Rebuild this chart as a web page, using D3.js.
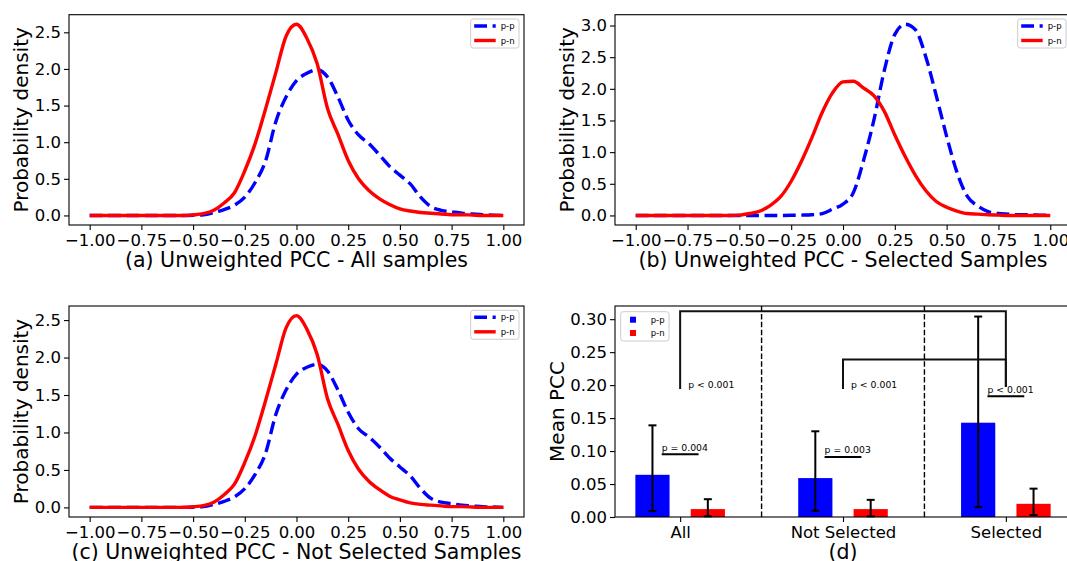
<!DOCTYPE html>
<html>
<head>
<meta charset="utf-8">
<script src="https://cdn.jsdelivr.net/npm/d3@7"></script>
<style>
body { margin: 0; background: #fff; }
svg text { font-family: "DejaVu Sans", sans-serif; fill: #000; }
</style>
</head>
<body>
<div id="chart"></div>
<script>
// PCC values where the densities were sampled
const pccPoints = [-1.00, -0.95, -0.90, -0.85, -0.80, -0.75, -0.70, -0.65, -0.60, -0.55,
	-0.50, -0.45, -0.40, -0.35, -0.30, -0.25, -0.20, -0.15, -0.10, -0.05,
	0.00, 0.05, 0.10, 0.15, 0.20, 0.25, 0.30, 0.35, 0.40, 0.45,
	0.50, 0.55, 0.60, 0.65, 0.70, 0.75, 0.80, 0.85, 0.90, 0.95, 1.00]

// (a) all samples
const allPP = [0, 0, 0, 0, 0, 0, 0, 0, 0, 0,
	0.003, 0.01, 0.04, 0.08, 0.14, 0.25, 0.45, 0.74, 1.28, 1.62,
	1.84, 1.94, 1.99, 1.89, 1.62, 1.30, 1.10, 0.98, 0.83, 0.67,
	0.55, 0.43, 0.25, 0.12, 0.07, 0.05, 0.03, 0.02, 0.01, 0.005, 0]
const allPN = [0, 0, 0, 0, 0, 0, 0, 0, 0, 0,
	0.008, 0.025, 0.07, 0.17, 0.31, 0.61, 0.98, 1.45, 1.95, 2.45,
	2.61, 2.42, 2.07, 1.46, 1.11, 0.75, 0.50, 0.34, 0.23, 0.15,
	0.09, 0.06, 0.04, 0.03, 0.02, 0.01, 0.01, 0.005, 0, 0, 0]

// (b) selected samples
const selPP = [0, 0, 0, 0, 0, 0, 0, 0, 0, 0,
	0, 0, 0, 0, 0, 0.002, 0.005, 0.01, 0.03, 0.10,
	0.18, 0.36, 0.88, 1.52, 2.30, 2.86, 3.02, 2.93, 2.50, 1.89,
	1.25, 0.68, 0.30, 0.15, 0.06, 0.03, 0.02, 0.01, 0.01, 0.005, 0]
const selPN = [0, 0, 0, 0, 0, 0, 0, 0, 0, 0,
	0.005, 0.03, 0.07, 0.16, 0.30, 0.54, 0.86, 1.23, 1.63, 1.94,
	2.11, 2.12, 2.01, 1.89, 1.64, 1.27, 0.93, 0.63, 0.39, 0.22,
	0.13, 0.07, 0.03, 0.02, 0.01, 0.005, 0, 0, 0, 0, 0]

// (c) not selected samples
const notPP = [0, 0, 0, 0, 0, 0, 0, 0, 0, 0,
	0.003, 0.01, 0.04, 0.08, 0.14, 0.25, 0.44, 0.72, 1.24, 1.57,
	1.78, 1.87, 1.91, 1.82, 1.57, 1.27, 1.05, 0.94, 0.81, 0.66,
	0.54, 0.42, 0.25, 0.12, 0.07, 0.05, 0.03, 0.02, 0.01, 0.005, 0]
const notPN = [0, 0, 0, 0, 0, 0, 0, 0, 0, 0,
	0.008, 0.025, 0.07, 0.17, 0.31, 0.60, 0.96, 1.42, 1.91, 2.40,
	2.56, 2.38, 2.04, 1.45, 1.11, 0.76, 0.51, 0.35, 0.24, 0.15,
	0.10, 0.06, 0.04, 0.03, 0.02, 0.01, 0.01, 0.005, 0, 0, 0]

const pccTicks = [-1, -0.75, -0.5, -0.25, 0, 0.25, 0.5, 0.75, 1]
const seriesNames = ["p-p", "p-n"]

// (d) mean PCC per group
const groups = ["All", "Not Selected", "Selected"]
const meanPP = [0.064, 0.059, 0.143]
const meanPN = [0.012, 0.012, 0.020]
const ppLow = [0.009, 0.009, 0.015]
const ppHigh = [0.139, 0.130, 0.304]
const pnLow = [0.001, 0.001, 0.003]
const pnHigh = [0.027, 0.026, 0.043]
const meanTicks = [0, 0.05, 0.10, 0.15, 0.20, 0.25, 0.30]

// significance marks (levels in Mean PCC units)
const pairTests = [
	{ group: 0, level: 0.095, label: "p = 0.004" },
	{ group: 1, level: 0.091, label: "p = 0.003" },
	{ group: 2, level: 0.183, label: "p < 0.001" },
]
const groupTests = [
	{ from: 0, to: 2, top: 0.312, foot: 0.194, label: "p < 0.001" },
	{ from: 1, to: 2, top: 0.239, foot: 0.194, label: "p < 0.001" },
]

const BLUE = "#0000ff"
const RED = "#ff0000"

const svg = d3.select("#chart")
	.append("svg")
	.attr("width", 1067)
	.attr("height", 561)

function styleAxis(g, size) {
	g.attr("font-family", null).attr("font-size", null)
	g.select(".domain").remove()
	g.selectAll(".tick line").attr("stroke", "#000").attr("stroke-width", 1.1)
	g.selectAll(".tick text").style("font-size", size + "px")
}

function addFrame(box) {
	svg.append("rect")
		.attr("x", box.left).attr("y", box.top)
		.attr("width", box.right - box.left)
		.attr("height", box.bottom - box.top)
		.attr("fill", "none")
		.attr("stroke", "#000")
		.attr("stroke-width", 1.1)
}

function addLabels(box, title, ylabel, ylabelX) {
	svg.append("text")
		.attr("x", (box.left + box.right) / 2)
		.attr("y", box.bottom + 42)
		.attr("text-anchor", "middle")
		.style("font-size", "20.5px")
		.text(title)

	svg.append("text")
		.attr("transform", `translate(${ylabelX},${(box.top + box.bottom) / 2}) rotate(-90)`)
		.attr("text-anchor", "middle")
		.style("font-size", "20px")
		.text(ylabel)
}

function densityPanel(box, pp, pn, yTicks, title) {
	const x = d3.scaleLinear().domain([-1.1, 1.1]).range([box.left, box.right])
	const yMax = d3.max(pp.concat(pn))
	const y = d3.scaleLinear()
		.domain([-yMax * 0.05, yMax * 1.05])
		.range([box.bottom, box.top])

	const line = d3.line()
		.x((d, i) => x(pccPoints[i]))
		.y(d => y(d))
		.curve(d3.curveMonotoneX)

	svg.append("path")
		.attr("d", line(pp))
		.attr("fill", "none")
		.attr("stroke", BLUE)
		.attr("stroke-width", 3.4)
		.attr("stroke-dasharray", "12.8,5.6")

	svg.append("path")
		.attr("d", line(pn))
		.attr("fill", "none")
		.attr("stroke", RED)
		.attr("stroke-width", 3.4)

	svg.append("g")
		.attr("transform", `translate(0,${box.bottom})`)
		.call(d3.axisBottom(x).tickValues(pccTicks).tickFormat(d3.format(".2f")).tickSize(5).tickPadding(4))
		.call(g => styleAxis(g, 16.5))

	svg.append("g")
		.attr("transform", `translate(${box.left},0)`)
		.call(d3.axisLeft(y).tickValues(yTicks).tickFormat(d3.format(".1f")).tickSize(5).tickPadding(3))
		.call(g => styleAxis(g, 16.5))

	// legend
	const lg = svg.append("g")
		.attr("transform", `translate(${box.right - 53.3},${box.top + 4.3})`)
	lg.append("rect")
		.attr("width", 48.3).attr("height", 29).attr("rx", 2.5)
		.attr("fill", "#fff").attr("fill-opacity", 0.8)
		.attr("stroke", "#cccccc").attr("stroke-width", 1)
	seriesNames.forEach((name, i) => {
		const ly = 7 + i * 14.5
		lg.append("line")
			.attr("x1", 3.5).attr("x2", 25).attr("y1", ly).attr("y2", ly)
			.attr("stroke", i === 0 ? BLUE : RED)
			.attr("stroke-width", 3.4)
			.attr("stroke-dasharray", i === 0 ? "12.8,5.6" : null)
		lg.append("text")
			.attr("x", 30).attr("y", ly + 3)
			.style("font-size", "8.5px")
			.text(name)
	})

	addFrame(box)
	addLabels(box, title, "Probability density", box.left - 41)
}

densityPanel({ left: 69, right: 524, top: 14.7, bottom: 225 }, allPP, allPN,
	[0, 0.5, 1, 1.5, 2, 2.5], "(a) Unweighted PCC - All samples")
densityPanel({ left: 615, right: 1071, top: 14.7, bottom: 225 }, selPP, selPN,
	[0, 0.5, 1, 1.5, 2, 2.5, 3], "(b) Unweighted PCC - Selected Samples")
densityPanel({ left: 69, right: 524, top: 306, bottom: 517 }, notPP, notPN,
	[0, 0.5, 1, 1.5, 2, 2.5], "(c) Unweighted PCC - Not Selected Samples")

// (d) bar chart
function barPanel(box) {
	const x = d3.scaleLinear().domain([-0.4, 2.4]).range([box.left, box.right])
	const y = d3.scaleLinear().domain([0, 0.32]).range([box.bottom, box.top])
	const offset = 0.17
	const halfW = 0.105

	const series = [
		{ mean: meanPP, low: ppLow, high: ppHigh, color: BLUE, off: -offset },
		{ mean: meanPN, low: pnLow, high: pnHigh, color: RED, off: offset },
	]

	series.forEach(s => {
		svg.append("g").selectAll("rect")
			.data(s.mean)
			.enter()
			.append("rect")
			.attr("x", (d, i) => x(i + s.off - halfW))
			.attr("width", (d, i) => x(i + s.off + halfW) - x(i + s.off - halfW))
			.attr("y", d => y(d))
			.attr("height", d => y(0) - y(d))
			.attr("fill", s.color)
	})

	// error bars
	series.forEach(s => {
		const eg = svg.append("g").attr("stroke", "#000").attr("stroke-width", 2)
		s.mean.forEach((d, i) => {
			const cx = x(i + s.off)
			eg.append("line").attr("x1", cx).attr("x2", cx)
				.attr("y1", y(s.low[i])).attr("y2", y(s.high[i]))
			eg.append("line").attr("x1", cx - 4).attr("x2", cx + 4)
				.attr("y1", y(s.low[i])).attr("y2", y(s.low[i]))
			eg.append("line").attr("x1", cx - 4).attr("x2", cx + 4)
				.attr("y1", y(s.high[i])).attr("y2", y(s.high[i]))
		})
	})

	// group separators
	;[0.5, 1.5].forEach(v => {
		svg.append("line")
			.attr("x1", x(v)).attr("x2", x(v))
			.attr("y1", box.top).attr("y2", box.bottom)
			.attr("stroke", "#000").attr("stroke-width", 1.4)
			.attr("stroke-dasharray", "5.5,2.4")
	})

	// p-p vs p-n tests inside each group
	pairTests.forEach(t => {
		svg.append("line")
			.attr("x1", x(t.group - 0.113)).attr("x2", x(t.group + 0.113))
			.attr("y1", y(t.level)).attr("y2", y(t.level))
			.attr("stroke", "#000").attr("stroke-width", 2)
		svg.append("text")
			.attr("x", x(t.group - 0.113)).attr("y", y(t.level) - 3.5)
			.style("font-size", "9.3px")
			.text(t.label)
	})

	// tests between groups
	groupTests.forEach(t => {
		svg.append("path")
			.attr("d", `M${x(t.from)},${y(t.foot)}V${y(t.top)}H${x(t.to)}V${y(t.foot + 0.003)}`)
			.attr("fill", "none")
			.attr("stroke", "#111").attr("stroke-width", 2)
		svg.append("text")
			.attr("x", x(t.from) + 8).attr("y", y(t.foot) - 1)
			.style("font-size", "9.3px")
			.text(t.label)
	})

	svg.append("g")
		.attr("transform", `translate(0,${box.bottom})`)
		.call(d3.axisBottom(x).tickValues([0, 1, 2]).tickFormat(i => groups[i]).tickSize(5).tickPadding(4))
		.call(g => styleAxis(g, 16.5))

	svg.append("g")
		.attr("transform", `translate(${box.left},0)`)
		.call(d3.axisLeft(y).tickValues(meanTicks).tickFormat(d3.format(".2f")).tickSize(5).tickPadding(3))
		.call(g => styleAxis(g, 16.5))

	// legend
	const lg = svg.append("g")
		.attr("transform", `translate(${box.left + 5.7},${box.top + 5.7})`)
	lg.append("rect")
		.attr("width", 48.3).attr("height", 29.3).attr("rx", 2.5)
		.attr("fill", "#fff").attr("fill-opacity", 0.8)
		.attr("stroke", "#cccccc").attr("stroke-width", 1)
	seriesNames.forEach((name, i) => {
		const ly = 8 + i * 13.3
		lg.append("rect")
			.attr("x", 9.3).attr("y", ly - 3)
			.attr("width", 6).attr("height", 6)
			.attr("fill", i === 0 ? BLUE : RED)
		lg.append("text")
			.attr("x", 30).attr("y", ly + 3)
			.style("font-size", "8.5px")
			.text(name)
	})

	addFrame(box)
	addLabels(box, "(d)", "Mean PCC", box.left - 51)
}

barPanel({ left: 615, right: 1071, top: 306, bottom: 517 })
</script>
</body>
</html>
